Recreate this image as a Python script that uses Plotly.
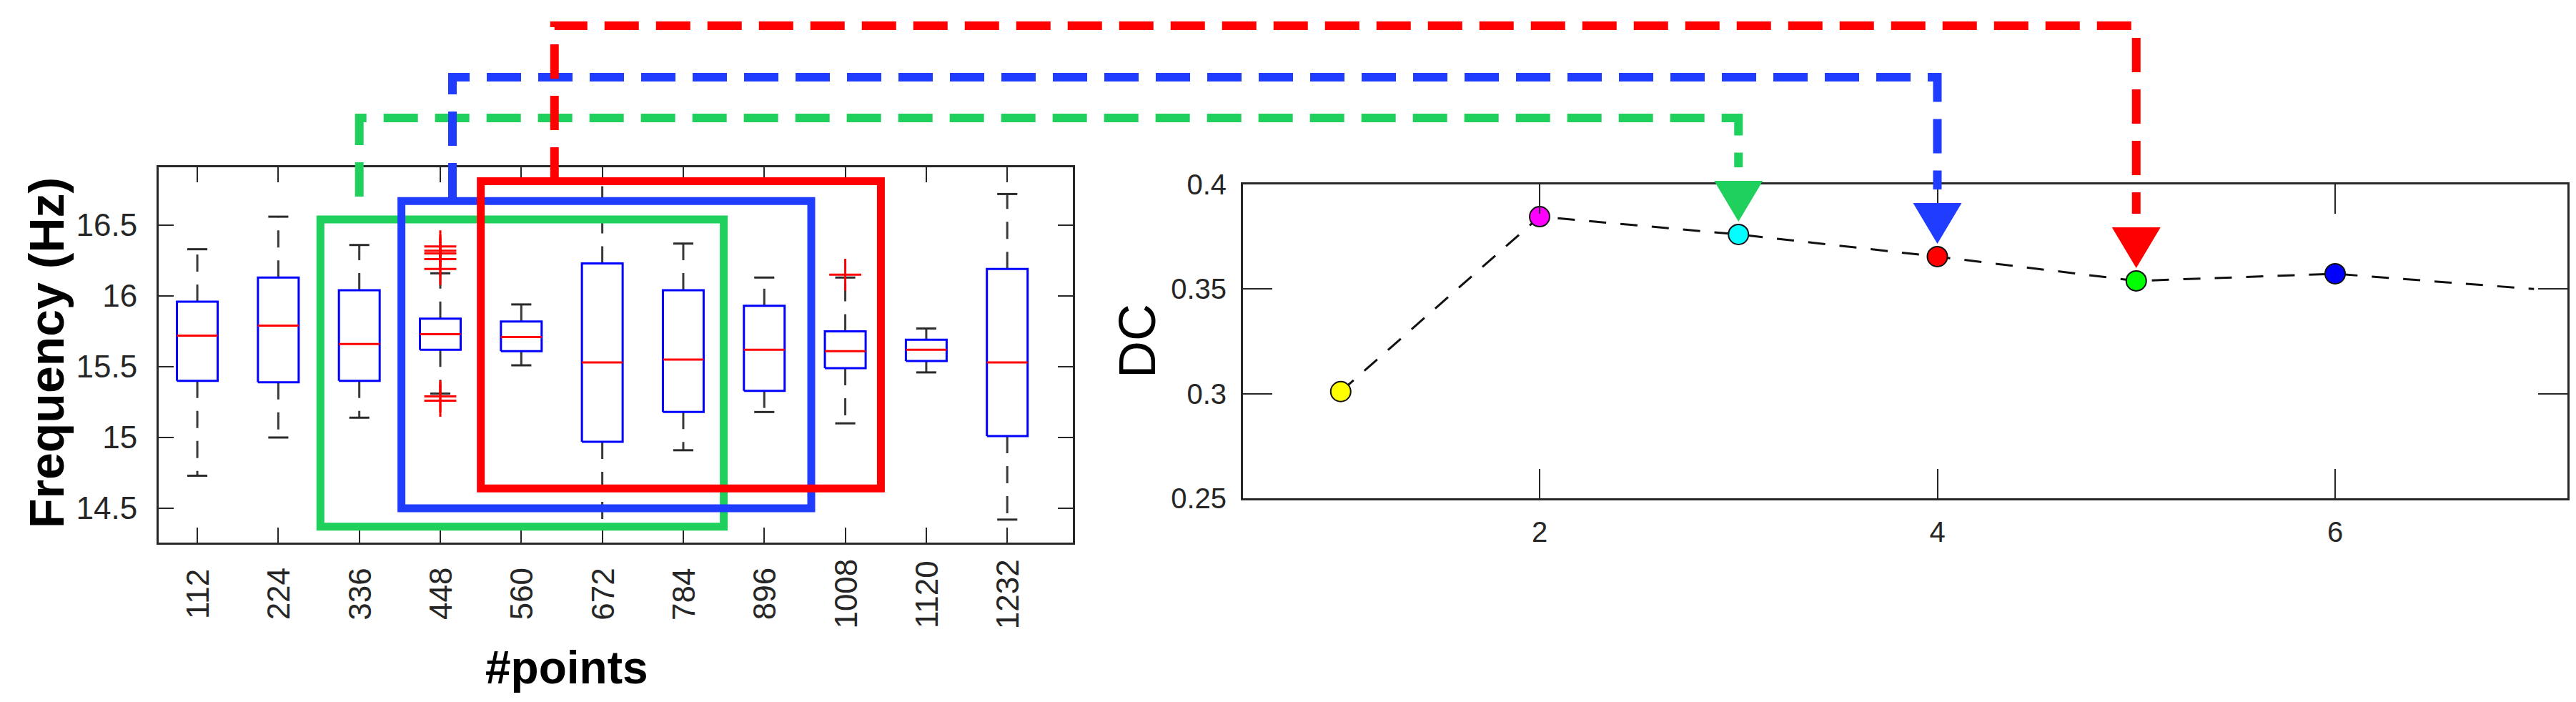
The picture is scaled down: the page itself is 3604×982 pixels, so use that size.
import plotly.graph_objects as go

W, H = 3604, 982
FONT = "Liberation Sans, Arial, sans-serif"
AXC = "#262626"
GREEN, BLUE, RED = "#20D05C", "#1F3CFF", "#FF0000"

# ---- left panel: frequency boxplots vs number of points ----
point_counts = ["112", "224", "336", "448", "560", "672", "784", "896", "1008", "1120", "1232"]
upper_whisker = [16.33, 16.56, 16.36, 16.16, 15.94, 16.81, 16.37, 16.13, 16.13, 15.77, 16.72]
q3 = [15.96, 16.13, 16.04, 15.84, 15.82, 16.23, 16.04, 15.93, 15.75, 15.69, 16.19]
median = [15.72, 15.79, 15.66, 15.73, 15.71, 15.53, 15.55, 15.62, 15.61, 15.62, 15.53]
q1 = [15.40, 15.39, 15.40, 15.62, 15.61, 14.97, 15.18, 15.33, 15.49, 15.54, 15.01]
lower_whisker = [14.73, 15.00, 15.14, 15.31, 15.51, 14.37, 14.91, 15.18, 15.10, 15.46, 14.42]
outliers = {
    "448": [16.35, 16.32, 16.30, 16.26, 16.19, 15.29, 15.26],
    "1008": [16.15],
}

# ---- right panel: DC vs k ----
dc_k = [1, 2, 3, 4, 5, 6, 7]
dc_value = [0.301, 0.3846, 0.3761, 0.3655, 0.3539, 0.3573, 0.3500]
dc_colors = ["#FFFF00", "#FF00FF", "#00FFFF", "#FF0000", "#00FF00", "#0000FF"]

# axes geometry (pixels) and ranges
L_X0, L_X1, L_Y0, L_Y1 = 214, 1493, 226, 751
R_X0, R_X1, R_Y0, R_Y1 = 1731, 3584, 250, 689
L_XR, L_YR = [0.523, 11.81], [14.2576, 16.909]
R_XR, R_YR = [0.5085, 7.168], [0.25, 0.40]


def px(p):
    return p / W


def py(p):
    return 1 - p / H


def left_x_px(v):
    return L_X0 + (v - L_XR[0]) / (L_XR[1] - L_XR[0]) * (L_X1 - L_X0)


def dc_x_px(v):
    return R_X0 + (v - R_XR[0]) / (R_XR[1] - R_XR[0]) * (R_X1 - R_X0)


def dc_y_px(v):
    return R_Y0 + (R_YR[1] - v) / (R_YR[1] - R_YR[0]) * (R_Y1 - R_Y0)


fig = go.Figure()

hw, cw = 0.2515, 0.124
pos = list(range(1, len(point_counts) + 1))

bx, by, mx, my, wx, wy, cx, cy = [], [], [], [], [], [], [], []
for c, lo, hi, md, uw, lw in zip(pos, q1, q3, median, upper_whisker, lower_whisker):
    bx += [c - hw, c + hw, c + hw, c - hw, c - hw, None]
    by += [lo, lo, hi, hi, lo, None]
    mx += [c - hw, c + hw, None]
    my += [md, md, None]
    wx += [c, c, None, c, c, None]
    wy += [hi, uw, None, lo, lw, None]
    cx += [c - cw, c + cw, None, c - cw, c + cw, None]
    cy += [uw, uw, None, lw, lw, None]

fig.add_trace(go.Scatter(x=wx, y=wy, mode="lines", xaxis="x", yaxis="y",
                         line=dict(color="#3a3a3a", width=3, dash="24px,18px"), hoverinfo="skip"))
fig.add_trace(go.Scatter(x=cx, y=cy, mode="lines", xaxis="x", yaxis="y",
                         line=dict(color="#2a2a2a", width=3), hoverinfo="skip"))
fig.add_trace(go.Scatter(x=bx, y=by, mode="lines", xaxis="x", yaxis="y",
                         line=dict(color="#0000FF", width=3), hoverinfo="skip"))
fig.add_trace(go.Scatter(x=mx, y=my, mode="lines", xaxis="x", yaxis="y",
                         line=dict(color="#FF0000", width=3), hoverinfo="skip"))

ox, oy = [], []
for lab, vals in outliers.items():
    c = point_counts.index(lab) + 1
    ox += [c] * len(vals)
    oy += vals
fig.add_trace(go.Scatter(x=ox, y=oy, mode="markers", xaxis="x", yaxis="y",
                         marker=dict(symbol="cross-thin", size=32, line=dict(color="#FF0000", width=3)),
                         hoverinfo="skip"))

# right panel
fig.add_trace(go.Scatter(x=dc_k, y=dc_value, mode="lines", xaxis="x2", yaxis="y2",
                         line=dict(color="#111111", width=3, dash="24px,20px"), hoverinfo="skip"))
fig.add_trace(go.Scatter(x=dc_k[:len(dc_colors)], y=dc_value[:len(dc_colors)], mode="markers",
                         xaxis="x2", yaxis="y2",
                         marker=dict(size=28, color=dc_colors, line=dict(color="#111111", width=2)),
                         hoverinfo="skip"))

axis_common = dict(showgrid=False, zeroline=False, showline=True, mirror="ticks", automargin=False,
                   linecolor=AXC, linewidth=3, ticks="inside", tickcolor=AXC, tickwidth=2,
                   tickfont=dict(family=FONT, color=AXC))

fig.update_layout(
    width=W, height=H, margin=dict(l=0, r=0, t=0, b=0, pad=0, autoexpand=False),
    paper_bgcolor="white", plot_bgcolor="white", showlegend=False,
    xaxis=dict(axis_common, domain=[px(L_X0), px(L_X1)], range=L_XR, tickvals=pos,
               showticklabels=False, ticklen=21, anchor="y"),
    yaxis=dict(axis_common, domain=[py(L_Y1), py(L_Y0)], range=L_YR,
               tickvals=[14.5, 15, 15.5, 16, 16.5], ticktext=["14.5", "15", "15.5", "16", "16.5"],
               ticklen=21, ticklabelstandoff=18, anchor="x",
               tickfont=dict(family=FONT, color=AXC, size=44)),
    xaxis2=dict(axis_common, domain=[px(R_X0), px(R_X1)], range=R_XR, tickvals=[2, 4, 6],
                ticklen=41, ticklabelstandoff=10, anchor="y2",
                tickfont=dict(family=FONT, color=AXC, size=40)),
    yaxis2=dict(axis_common, domain=[py(R_Y1), py(R_Y0)], range=R_YR,
                tickvals=[0.25, 0.3, 0.35, 0.4], ticktext=["0.25", "0.3", "0.35", "0.4"],
                ticklen=41, ticklabelstandoff=12, anchor="x2",
                tickfont=dict(family=FONT, color=AXC, size=40)),
)

annotations = []
for c, lab in zip(pos, point_counts):
    annotations.append(dict(x=c, xref="x", y=py(823), yref="paper", text=lab, textangle=-90,
                            showarrow=False, xanchor="center", yanchor="middle",
                            font=dict(family=FONT, size=44, color=AXC)))
annotations.append(dict(x=px(785), y=py(926), xref="paper", yref="paper", text="<b>#points</b>",
                        showarrow=False, xanchor="center", yanchor="middle",
                        font=dict(family=FONT, size=64, color="black")))
annotations.append(dict(x=px(57), y=py(486), xref="paper", yref="paper", text="<b>Frequency (Hz)</b>",
                        textangle=-90, showarrow=False, xanchor="center", yanchor="middle",
                        font=dict(family=FONT, size=68, color="black")))
annotations.append(dict(x=px(1583), y=py(469), xref="paper", yref="paper", text="DC",
                        textangle=-90, showarrow=False, xanchor="center", yanchor="middle",
                        font=dict(family=FONT, size=72, color="black")))
fig.update_layout(annotations=annotations)

# highlight windows on the boxplot and connectors to the DC points
windows = [
    dict(color=GREEN, x=[2.52, 7.50], y=[14.37, 16.54]),
    dict(color=BLUE, x=[3.52, 8.58], y=[14.50, 16.67]),
    dict(color=RED, x=[4.50, 9.44], y=[14.64, 16.81]),
]
connectors = [
    dict(color=GREEN, left_x=3.0, start_px=267, level_px=157, dc_index=2),
    dict(color=BLUE, left_x=4.15, start_px=268, level_px=100, dc_index=3),
    dict(color=RED, left_x=5.41, start_px=246, level_px=28, dc_index=4),
]

shapes = []
for w in windows:
    shapes.append(dict(type="rect", xref="x", yref="y", x0=w["x"][0], x1=w["x"][1],
                       y0=w["y"][0], y1=w["y"][1], line=dict(color=w["color"], width=11),
                       layer="above"))
for cn in connectors:
    k = cn["dc_index"]
    xl = left_x_px(cn["left_x"])
    xr = dc_x_px(dc_k[k])
    tip = dc_y_px(dc_value[k]) - 18
    top = tip - 57
    path = "M {:.5f},{:.5f} L {:.5f},{:.5f} L {:.5f},{:.5f} L {:.5f},{:.5f}".format(
        px(xl), py(cn["start_px"]), px(xl), py(cn["level_px"]),
        px(xr), py(cn["level_px"]), px(xr), py(top - 19))
    shapes.append(dict(type="path", xref="paper", yref="paper", path=path,
                       line=dict(color=cn["color"], width=12, dash="48px,24px"), layer="above"))
    tri = "M {:.5f},{:.5f} L {:.5f},{:.5f} L {:.5f},{:.5f} Z".format(
        px(xr - 34), py(top), px(xr + 34), py(top), px(xr), py(tip))
    shapes.append(dict(type="path", xref="paper", yref="paper", path=tri,
                       fillcolor=cn["color"], line=dict(width=0), layer="above"))
fig.update_layout(shapes=shapes)

fig.write_html("out.html")
